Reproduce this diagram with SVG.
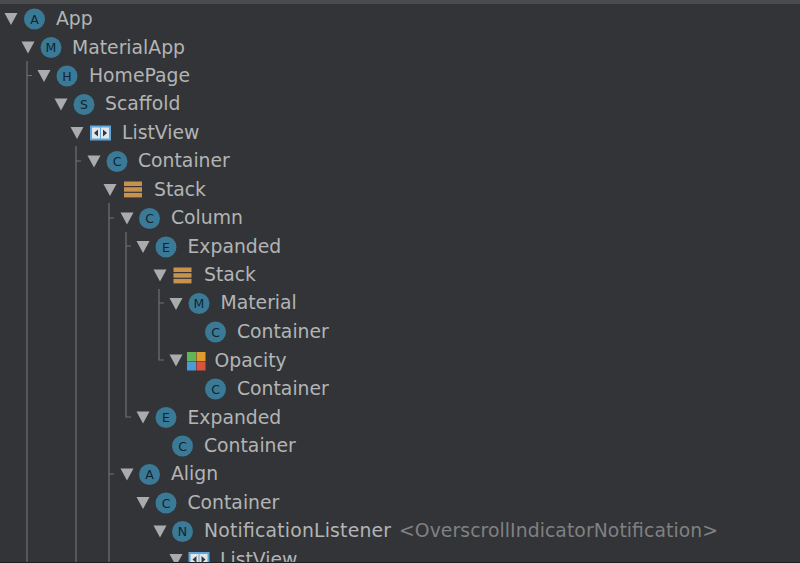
<svg xmlns="http://www.w3.org/2000/svg" width="800" height="563" viewBox="0 0 800 563">
<style>
.t{font-family:"DejaVu Sans","Liberation Sans",sans-serif;font-size:18.800px;fill:#b2b4b5}
.g{font-family:"DejaVu Sans","Liberation Sans",sans-serif;font-size:18.800px;fill:#7f8182}
.d{font-family:"DejaVu Sans","Liberation Sans",sans-serif;font-size:12.500px;fill:#12242e;text-anchor:middle}
.c{fill:#3a7a96}
.a{fill:#a9abac}
.l{stroke:#6f7172;stroke-width:1.2;fill:none}
.b{fill:#c8924c}
</style>
<defs>
<path id="ar" class="a" d="M-6.500-6H6.500L0 6Z"/>
<g id="st"><rect class="b" x="-9" y="-8" width="18" height="4.500"/><rect class="b" x="-9" y="-2.300" width="18" height="4.500"/><rect class="b" x="-9" y="3.400" width="18" height="4.500"/></g>
<g id="lv"><rect x="-10.500" y="-7.500" width="21" height="15" fill="#5ea7dc"/><rect x="-8.500" y="-5.500" width="8" height="11" fill="#e4e7ea"/><rect x="0.500" y="-5.500" width="8" height="11" fill="#e4e7ea"/><path d="M-2.500-3.500V3.500L-6.500 0Z" fill="#33383c"/><path d="M2.500-3.500V3.500L6.500 0Z" fill="#33383c"/></g>
</defs>
<rect width="800" height="563" fill="#333437"/>
<rect width="800" height="4" fill="#4a4b4d"/>
<g id="connectors" class="l">
<path d="M27 61V563M27 75.500H32"/>
<path d="M76 146V563M76 161H81"/>
<path d="M109 203V563M109 218H114M109 474H114"/>
<path d="M126 232V417H131M126 246H131"/>
<path d="M159 289V360H164M159 303H164"/>
</g>
<g id="n1"><use href="#ar" x="11" y="19"/><circle class="c" cx="34.500" cy="19" r="10.500"/><text class="d" x="34.500" y="23.500">A</text><text class="t" x="56" y="25">App</text></g>
<g id="n2"><use href="#ar" x="28" y="47.500"/><circle class="c" cx="51" cy="47.500" r="10.500"/><text class="d" x="51" y="52">M</text><text class="t" x="72" y="53.500">MaterialApp</text></g>
<g id="n3"><use href="#ar" x="44" y="76"/><circle class="c" cx="67" cy="76" r="10.500"/><text class="d" x="67" y="80.500">H</text><text class="t" x="89" y="81.500">HomePage</text></g>
<g id="n4"><use href="#ar" x="61" y="104.500"/><circle class="c" cx="84" cy="104.500" r="10.500"/><text class="d" x="84" y="109">S</text><text class="t" x="105" y="110">Scaffold</text></g>
<g id="n5"><use href="#ar" x="77" y="133"/><use href="#lv" x="100.500" y="133"/><text class="t" x="122" y="138.500">ListView</text></g>
<g id="n6"><use href="#ar" x="94" y="161.500"/><circle class="c" cx="117" cy="161.500" r="10.500"/><text class="d" x="117" y="166">C</text><text class="t" x="138" y="167">Container</text></g>
<g id="n7"><use href="#ar" x="110" y="190"/><use href="#st" x="133" y="189.500"/><text class="t" x="154" y="195.500">Stack</text></g>
<g id="n8"><use href="#ar" x="127" y="218.500"/><circle class="c" cx="149.500" cy="218.500" r="10.500"/><text class="d" x="149.500" y="223">C</text><text class="t" x="171" y="224">Column</text></g>
<g id="n9"><use href="#ar" x="143" y="247"/><circle class="c" cx="166" cy="247" r="10.500"/><text class="d" x="166" y="251.500">E</text><text class="t" x="187.500" y="252.500">Expanded</text></g>
<g id="n10"><use href="#ar" x="160" y="275.500"/><use href="#st" x="182.500" y="275.500"/><text class="t" x="204" y="281">Stack</text></g>
<g id="n11"><use href="#ar" x="176" y="304"/><circle class="c" cx="199" cy="303.500" r="10.500"/><text class="d" x="199" y="308">M</text><text class="t" x="220.500" y="309">Material</text></g>
<g id="n12"><circle class="c" cx="215.500" cy="332" r="10.500"/><text class="d" x="215.500" y="336.500">C</text><text class="t" x="237" y="338">Container</text></g>
<g id="n13"><use href="#ar" x="176" y="360.500"/><rect x="187" y="352" width="9" height="9" fill="#62b455"/><rect x="196.500" y="352" width="9" height="9" fill="#e19a2d"/><rect x="187" y="361.500" width="9" height="9" fill="#4a9bd8"/><rect x="196.500" y="361.500" width="9" height="9" fill="#d9533f"/><text class="t" x="214.500" y="366.500">Opacity</text></g>
<g id="n14"><circle class="c" cx="215.500" cy="389" r="10.500"/><text class="d" x="215.500" y="393.500">C</text><text class="t" x="237" y="395">Container</text></g>
<g id="n15"><use href="#ar" x="143" y="417.500"/><circle class="c" cx="166" cy="417.500" r="10.500"/><text class="d" x="166" y="422">E</text><text class="t" x="187.500" y="423.500">Expanded</text></g>
<g id="n16"><circle class="c" cx="182.500" cy="446" r="10.500"/><text class="d" x="182.500" y="450.500">C</text><text class="t" x="204" y="451.500">Container</text></g>
<g id="n17"><use href="#ar" x="127" y="474.500"/><circle class="c" cx="149.500" cy="474.500" r="10.500"/><text class="d" x="149.500" y="479">A</text><text class="t" x="171" y="480">Align</text></g>
<g id="n18"><use href="#ar" x="143" y="503"/><circle class="c" cx="166" cy="503" r="10.500"/><text class="d" x="166" y="507.500">C</text><text class="t" x="187.500" y="508.500">Container</text></g>
<g id="n19"><use href="#ar" x="160" y="531.500"/><circle class="c" cx="182.500" cy="531.500" r="10.500"/><text class="d" x="182.500" y="536">N</text><text class="t" x="204" y="537" textLength="187">NotificationListener</text><text class="g" x="399" y="537" textLength="319">&lt;OverscrollIndicatorNotification&gt;</text></g>
<g id="n20"><use href="#ar" x="176" y="560"/><use href="#lv" x="199" y="559.500"/><text class="t" x="220" y="565.500">ListView</text></g>
<rect y="562" width="800" height="1" fill="#1f2022"/>
</svg>
